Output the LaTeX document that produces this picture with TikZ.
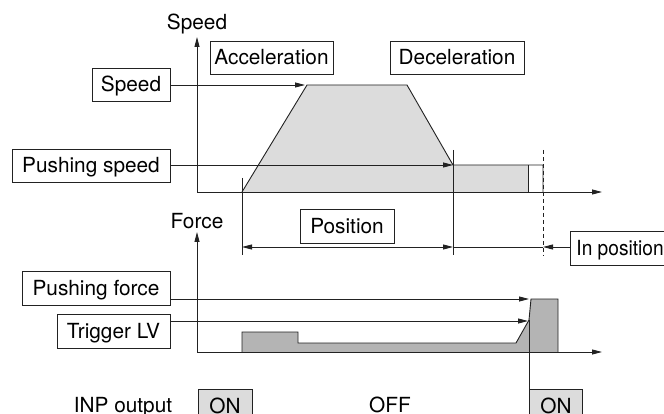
\documentclass[tikz,border=0pt]{standalone}
\usepackage{fontspec}
\setmainfont{TeX Gyre Heros}
\usetikzlibrary{arrows.meta}
\definecolor{lightfill}{HTML}{DCDCDC}
\definecolor{darkfill}{HTML}{B4B4B4}
\definecolor{ink}{HTML}{222222}
\begin{document}
\begin{tikzpicture}[x=1pt,y=-1pt,
  every node/.style={font=\fontsize{20.8}{24}\selectfont},
  lbox/.style={draw=ink,line width=0.9pt,fill=white,inner sep=0pt,text height=15pt,text depth=0pt,minimum height=33pt},
  onbox/.style={lbox,fill=lightfill,minimum height=34pt},
  arr/.style={-{Triangle[length=10pt,width=5pt]},line width=0.9pt,draw=ink},
  dimarr/.style={{Triangle[length=10pt,width=5pt]}-{Triangle[length=10pt,width=5pt]},line width=0.9pt,draw=ink},
  ln/.style={line width=0.9pt,draw=ink},
  plain/.style={anchor=base,inner sep=0pt}]
\useasboundingbox (0,0) rectangle (664,414);

% ---- axes ----
\coordinate (so) at (197,192);
\coordinate (sy) at (197,37);
\coordinate (sx) at (602,192);
\coordinate (fo) at (197,352);
\coordinate (fy) at (197,232);
\coordinate (fx) at (602,352);

% ---- speed profile ----
\coordinate (t0) at (242,192);
\coordinate (t1) at (307,85);
\coordinate (t2) at (407,85);
\coordinate (t3) at (453,165);
\coordinate (t4) at (528,165);
\coordinate (t5) at (528,192);
\coordinate (t6) at (543,165);
\coordinate (t7) at (543,192);
\fill[lightfill] (t0) -- (t1) -- (t2) -- (t3) -- (t4) -- (t5) -- cycle;
\draw[ln] (t0) -- (t1) -- (t2) -- (t3) -- (t6) -- (t7);
\draw[ln] (t4) -- (t5);

% ---- force profile ----
\coordinate (f0) at (242,352);
\coordinate (f1) at (242,332);
\coordinate (f2) at (298,332);
\coordinate (f3) at (298,343);
\coordinate (f4) at (516,343);
\coordinate (f5) at (529,320);
\coordinate (f6) at (531,299);
\coordinate (f7) at (558,299);
\coordinate (f8) at (558,352);
\draw[ln,fill=darkfill] (f0) -- (f1) -- (f2) -- (f3) -- (f4) -- (f5) -- (f6) -- (f7) -- (f8);

\draw[arr] (so) -- (sy);
\draw[arr] (so) -- (sx);
\draw[arr] (fo) -- (fy);
\draw[arr] (fo) -- (fx);

\node[plain] (speedlbl) at (197,30) {Speed};
\node[plain] (forcelbl) at (197,229) {Force};

% ---- markers ----
\coordinate (m1a) at (242,178);
\coordinate (m1b) at (242,255);
\coordinate (m2a) at (453,150);
\coordinate (m2b) at (453,255);
\coordinate (m3a) at (543,150);
\coordinate (m3b) at (543,256);
\draw[ln] (m1a) -- (m1b);
\draw[ln] (m2a) -- (m2b);
\draw[ln,dashed,dash pattern=on 4pt off 3pt] (m3a) -- (m3b);

% ---- boxes ----
\node[lbox,minimum width=123pt] (acc) at (271.5,57.5) {Acceleration};
\node[lbox,minimum width=134pt] (dec) at (457,57.5) {Deceleration};
\node[lbox,minimum width=78pt] (spd) at (131,84.5) {Speed};
\node[lbox,minimum width=158pt] (psp) at (91,165.5) {Pushing speed};
\node[lbox,minimum width=94pt,minimum height=34pt] (pos) at (347,226) {Position};
\node[lbox,minimum height=34pt,anchor=west,align=left,inner xsep=6pt] (inpos) at (570,248) {\scalebox{0.92}[1]{In position}\hspace*{8pt}};
\node[lbox,minimum width=148pt,minimum height=34pt] (pfc) at (96,288) {Pushing force};
\node[lbox,minimum width=113pt,minimum height=34pt] (trg) at (113.5,331) {Trigger LV};

% ---- arrows from boxes ----
\coordinate (spdend) at (305,85);
\draw[arr] (spd.east |- spdend) -- (spdend);
\draw[arr] (psp.east |- t3) -- (t3);

\coordinate (pl) at (242,247);
\coordinate (pr) at (453,247);
\coordinate (ip) at (543,247);
\draw[dimarr] (pl) -- (pr);
\draw[ln] (pr) -- (ip);
\draw[arr] (inpos.west |- ip) -- (ip);

\coordinate (pfend) at (529,299);
\coordinate (trgend) at (528,321);
\draw[arr] (pfc.east |- pfend) -- (pfend);
\draw[arr] (trg.east |- trgend) -- (trgend);

% ---- INP output ----
\node[plain] (inp) at (123,412) {INP output};
\node[onbox,minimum width=54pt] (on1) at (225,406) {ON};
\node[plain] (off) at (390,412) {OFF};
\node[onbox,minimum width=53pt,anchor=north west] (on2) at (529,389) {ON};
\draw[ln] (f5) -- (on2.north west);
\end{tikzpicture}
\end{document}
